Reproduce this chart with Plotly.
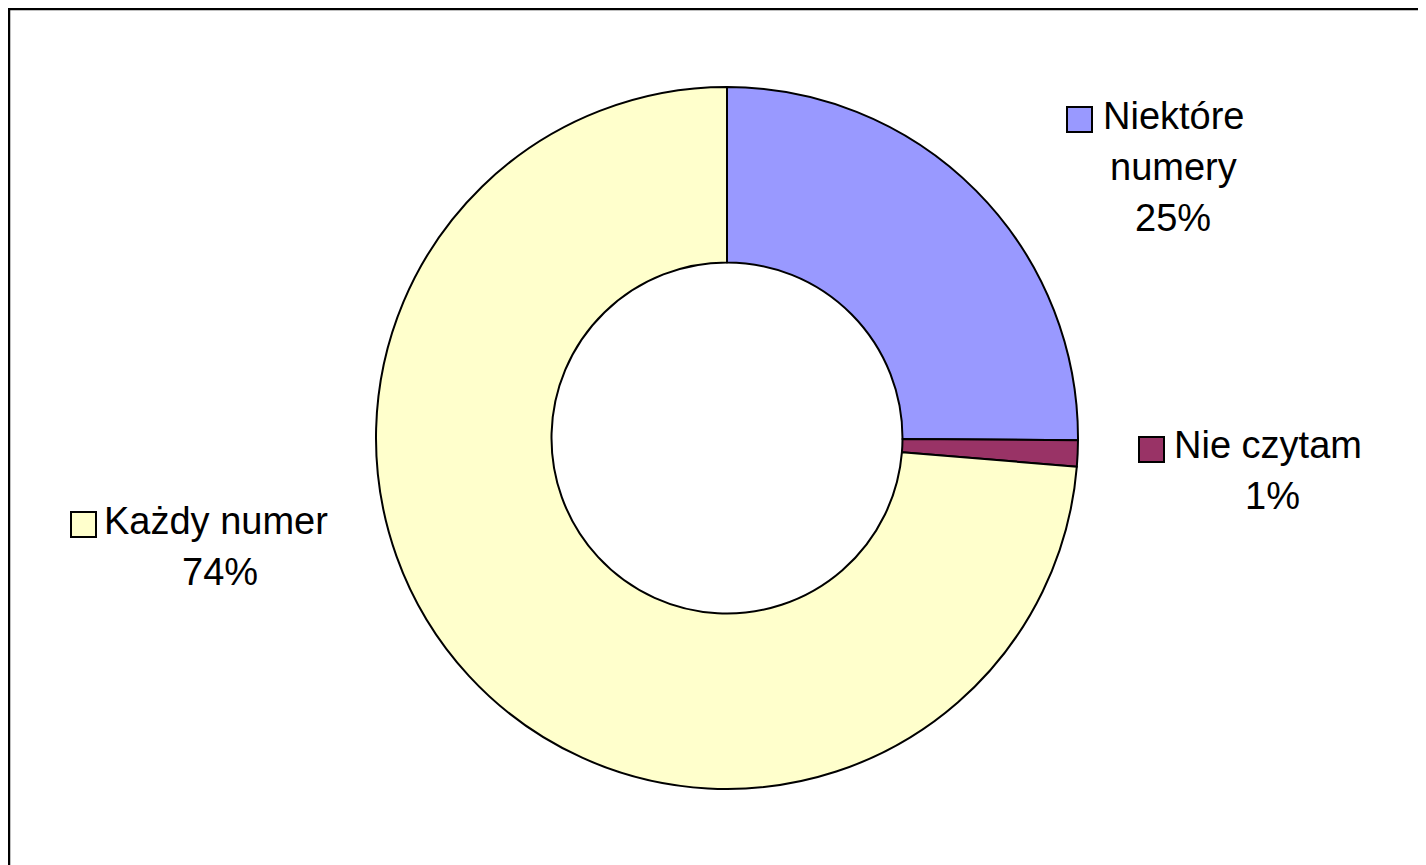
import plotly.graph_objects as go

labels = ["Niektóre numery", "Nie czytam", "Każdy numer"]
values = [25.1, 1.2, 73.7]
pct_text = ["25%", "1%", "74%"]
colors = ["#9999FF", "#993366", "#FFFFCC"]

W, H = 1426, 865
OFF = 8  # browser body margin
cx, cy, r = 727 - OFF, 438 - OFF, 351

def px(x):
    return (x - OFF) / W

def py(y):
    return 1 - (y - OFF) / H

fig = go.Figure()
fig.add_trace(go.Pie(
    labels=labels, values=values, sort=False, direction="clockwise", rotation=0,
    hole=0.5, textinfo="none", hoverinfo="label+percent",
    marker=dict(colors=colors, line=dict(color="black", width=2)),
    domain=dict(x=[(cx - r) / W, (cx + r) / W], y=[1 - (cy + r) / H, 1 - (cy - r) / H]),
    showlegend=False,
))

font = dict(family="Liberation Sans, Arial, sans-serif", size=38, color="black")

# label layout in reference screen pixels: (square x0, square y0, [(line text, x, y, anchor)])
label_specs = [
    (1067, 107, [("Niektóre", 1101, 116, "left"), ("numery", 1173, 167, "center"), (pct_text[0], 1173, 218, "center")]),
    (1139, 437, [("Nie czytam", 1172, 445, "left"), (pct_text[1], 1272, 496, "center")]),
    (71, 512, [("Każdy numer", 102, 521, "left"), (pct_text[2], 220, 572, "center")]),
]

for (sx, sy, lines), col in zip(label_specs, colors):
    fig.add_shape(type="rect", xref="paper", yref="paper",
                  x0=px(sx), x1=px(sx + 25), y0=py(sy + 25), y1=py(sy),
                  fillcolor=col, line=dict(color="black", width=2))
    for t, x, y, a in lines:
        fig.add_annotation(text=t, x=px(x), y=py(y), xref="paper", yref="paper",
                           xanchor=a, yanchor="middle", showarrow=False, font=font)

# chart frame
fig.add_shape(type="rect", xref="paper", yref="paper",
              x0=px(9), x1=1.02, y0=-0.02, y1=py(9),
              line=dict(color="black", width=2.5), fillcolor="rgba(0,0,0,0)")

fig.update_layout(width=W, height=H, margin=dict(l=0, r=0, t=0, b=0),
                  paper_bgcolor="white", plot_bgcolor="white")
fig.write_html("out.html")
